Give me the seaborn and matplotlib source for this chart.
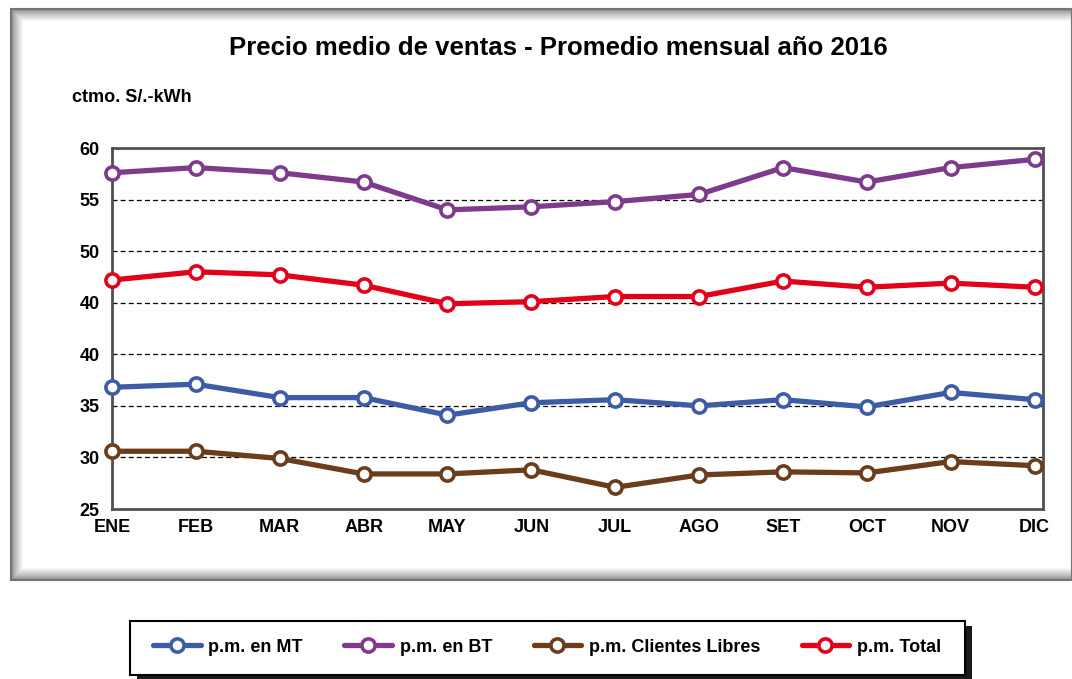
import numpy as np
import pandas as pd
import matplotlib
matplotlib.use("Agg")
import matplotlib.pyplot as plt
from matplotlib.patches import Rectangle
import seaborn as sns

months = ["ENE", "FEB", "MAR", "ABR", "MAY", "JUN", "JUL", "AGO", "SET", "OCT", "NOV", "DIC"]
pm_mt = [36.8, 37.1, 35.8, 35.8, 34.1, 35.3, 35.6, 35.0, 35.6, 34.9, 36.3, 35.6]
pm_bt = [57.6, 58.1, 57.6, 56.7, 54.0, 54.3, 54.8, 55.5, 58.1, 56.7, 58.1, 58.9]
pm_libres = [30.6, 30.6, 29.9, 28.4, 28.4, 28.8, 27.1, 28.3, 28.6, 28.5, 29.6, 29.2]
pm_total = [47.2, 48.0, 47.7, 46.7, 44.9, 45.1, 45.6, 45.6, 47.1, 46.5, 46.9, 46.5]
y_ticks = [25, 30, 35, 40, 45, 50, 55, 60]
y_tick_labels = ["25", "30", "35", "40", "40", "50", "55", "60"]

series = [
    ("p.m. en MT", pm_mt, "#3D5CA6"),
    ("p.m. en BT", pm_bt, "#7E3A8C"),
    ("p.m. Clientes Libres", pm_libres, "#6A3D1C"),
    ("p.m. Total", pm_total, "#E3001B"),
]

sns.set_theme(style="white")
plt.rcParams["font.family"] = ["Liberation Sans", "DejaVu Sans"]
plt.rcParams["text.color"] = "black"

W, H = 1072, 679
fig = plt.figure(figsize=(W / 100, H / 100), dpi=100)

# background frame in pixel coords
bg = fig.add_axes([0, 0, 1, 1], zorder=-5)
bg.set_xlim(0, W)
bg.set_ylim(H, 0)
bg.axis("off")
# gradient edges of outer frame
for i in range(14):
    g = 0.45 + 0.55 * (i / 13) ** 0.7
    bg.add_patch(Rectangle((11 + i, 9 + i), W - 11 - i, 571 - 2 * i,
                           facecolor="none", edgecolor=str(g), lw=1.2))
bg.add_patch(Rectangle((11, 9), W - 11, 571, facecolor="none", edgecolor="0.45", lw=1.5))

# legend box with shadow
bg.add_patch(Rectangle((137, 626), 835, 54, facecolor="0.1", edgecolor="none"))
bg.add_patch(Rectangle((130, 621), 835, 54, facecolor="white", edgecolor="black", lw=1.5))

ax = fig.add_axes([112 / W, 1 - 509 / H, (1043 - 112) / W, (509 - 148) / H])
x = np.arange(len(months))
for name, vals, col in series:
    sns.lineplot(x=x, y=vals, ax=ax, color=col, lw=3.8, marker="o", markersize=9.5,
                 markerfacecolor="white", markeredgecolor=col, markeredgewidth=2.6,
                 label=name, clip_on=False, zorder=5)

ax.set_xlim(0, 11.1)
ax.set_ylim(25, 60)
ax.set_yticks(y_ticks)
ax.set_yticklabels(y_tick_labels)
ax.set_xticks(x)
ax.set_xticklabels(months)
for t in y_ticks[1:-1]:
    ax.axhline(t, color="black", lw=0.9, ls=(0, (4, 2.5)), zorder=1)
for s in ax.spines.values():
    s.set_color("#505050")
    s.set_linewidth(2)
ax.tick_params(axis="y", direction="out", length=5, width=1.5, color="#505050",
               labelsize=13, pad=4, labelcolor="black")
ax.tick_params(axis="x", direction="inout", length=14, width=1.5, color="#505050",
               labelsize=13, pad=0, labelcolor="black")
for lab in ax.get_xticklabels() + ax.get_yticklabels():
    lab.set_fontweight("bold")
ax.set_xlabel("")
ax.set_ylabel("")

hl, ll = ax.get_legend_handles_labels()
ax.get_legend().remove()
fig.legend(hl, ll, loc="center left", bbox_to_anchor=(137 / W, 1 - 647 / H), ncol=4,
           frameon=False, prop={"weight": "bold", "size": 13}, handlelength=2.65,
           handletextpad=0.4, columnspacing=2.3)

fig.text(558 / W, 1 - 48 / H, "Precio medio de ventas - Promedio mensual año 2016",
         ha="center", va="center", fontsize=18.5, fontweight="bold")
fig.text(72 / W, 1 - 98 / H, "ctmo. S/.-kWh", ha="left", va="center",
         fontsize=13, fontweight="bold")

fig.savefig("out.png", dpi=100)
